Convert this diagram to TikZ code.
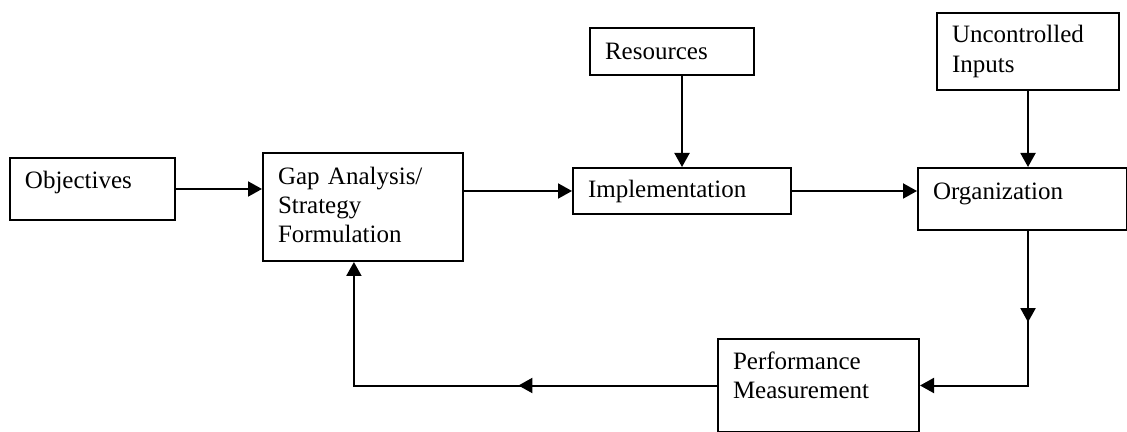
\documentclass[tikz,border=0pt]{standalone}
\usepackage{fontspec}
\setmainfont{Liberation Serif}
\usetikzlibrary{arrows.meta, calc}

\begin{document}
\begin{tikzpicture}[x=0.5pt, y=-0.5pt,
  blockbox/.style={draw, line width=1pt, anchor=north west, align=left, inner xsep=7.5pt, inner ysep=0pt, font=\fontsize{12.5}{14.6}\selectfont},
  flow/.style={line width=1pt, -{Triangle[length=7pt, width=7.5pt]}}]
  \useasboundingbox (0,0) rectangle (1127,432);

  % Blocks
  \node[blockbox, text width=67.5pt, minimum height=31pt, text depth=8.7pt] (obj) at (9,157) {Objectives};
  \node[blockbox, text width=85pt, minimum height=54pt, text depth=31.2pt] (gap) at (262,152) {Gap Analysis/\\Strategy\\Formulation};
  \node[blockbox, text width=67pt, minimum height=23.5pt] (res) at (589,27) {Resources};
  \node[blockbox, text width=94pt, minimum height=23pt] (impl) at (572,167) {Implementation};
  \node[blockbox, text width=76pt, minimum height=38.5pt] (unc) at (936,12) {Uncontrolled\\Inputs};
  \node[blockbox, text width=89.5pt, minimum height=31pt, text depth=7.7pt] (org) at (917,167) {Organization};
  \node[blockbox, text width=85.5pt, minimum height=46.5pt, text depth=24.6pt] (perf) at (717,338) {Performance\\Measurement};

  % Feed forward
  \draw[flow] (obj.east) -- (obj.east -| gap.west);
  \draw[flow] (gap.east |- impl.west) -- (impl.west);
  \draw[flow] (impl.east) -- (impl.east -| org.west);
  \draw[flow] (impl.north |- res.south) -- (impl.north);
  \draw[flow] (unc.south) -- (unc.south |- org.north);

  % Feedback loop
  \coordinate (orgout) at (unc.south |- org.south);
  \coordinate (gapin) at ($(gap.south west)!0.455!(gap.south east)$);
  \draw[flow] (orgout) -- ($(orgout)!0.59!(orgout |- perf.east)$);
  \draw[flow] (orgout) |- (perf.east);
  \draw[flow] (perf.west) -- ($(perf.west)!0.547!(perf.west -| gapin)$);
  \draw[flow] (perf.west) -| (gapin);
\end{tikzpicture}
\end{document}
